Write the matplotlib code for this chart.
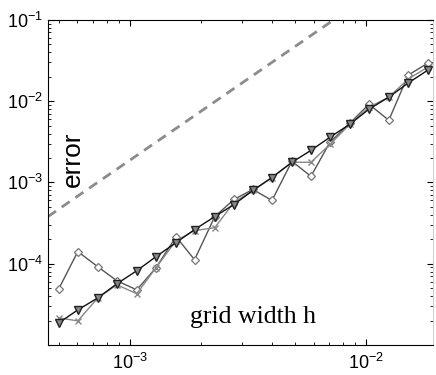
import matplotlib
matplotlib.use("Agg")
import matplotlib.pyplot as plt
from matplotlib.ticker import LogLocator, NullFormatter

plt.rcParams['font.family'] = ['Liberation Sans', 'DejaVu Sans']

# grid widths
h = [5.00e-4, 6.02e-4, 7.32e-4, 8.81e-4, 1.07e-3, 1.29e-3, 1.57e-3, 1.88e-3,
     2.29e-3, 2.76e-3, 3.32e-3, 4.00e-3, 4.86e-3, 5.85e-3, 7.04e-3, 8.55e-3,
     1.03e-2, 1.25e-2, 1.51e-2, 1.83e-2]

# errors of the three methods
err_tri = [1.87e-5, 2.70e-5, 3.80e-5, 5.66e-5, 8.20e-5, 1.22e-4, 1.82e-4, 2.63e-4,
           3.80e-4, 5.35e-4, 7.96e-4, 1.15e-3, 1.77e-3, 2.48e-3, 3.60e-3, 5.20e-3,
           7.96e-3, 1.12e-2, 1.67e-2, 2.41e-2]
err_dia = [4.91e-5, 1.41e-4, 9.18e-5, 6.17e-5, 4.77e-5, 8.92e-5, 2.15e-4, 1.12e-4,
           3.80e-4, 6.17e-4, 8.20e-4, 6.00e-4, 1.82e-3, 1.19e-3, 3.12e-3, 5.35e-3,
           9.18e-3, 5.82e-3, 2.09e-2, 2.94e-2]
err_x = [2.16e-5, 1.98e-5, 3.80e-5, 5.51e-5, 4.27e-5, 8.92e-5, 1.92e-4, 2.55e-4,
         2.78e-4, 5.67e-4, 7.96e-4, 1.15e-3, 1.77e-3, 1.77e-3, 2.94e-3, 5.20e-3,
         8.44e-3, 1.12e-2, 1.87e-2, 2.63e-2]

# second order reference line (end points)
ref_h = [4.5e-4, 8.0e-3]
ref_err = [3.8e-4, 0.12]

fig = plt.figure(figsize=(4.36, 3.75), dpi=100)
ax = fig.add_axes([0.110, 0.080, 0.883, 0.867])

ax.plot(ref_h, ref_err, '--', color='#8c8c8c', lw=2, dashes=(3.5, 2.5))
ax.plot(h, err_dia, '-', color='#555555', lw=1, marker='D', ms=4.5,
        mfc='white', mec='#777777', mew=0.9)
ax.plot(h, err_x, '-', color='#888888', lw=1, marker='x', ms=4.5, mec='#888888')
ax.plot(h, err_tri, '-', color='#111111', lw=1, marker='v', ms=5.5,
        mfc='#888888', mec='#222222', mew=1)

ax.set_xscale('log')
ax.set_yscale('log')
ax.set_xlim(4.5e-4, 1.923e-2)
ax.set_ylim(1e-5, 1e-1)

ax.set_yticks([1e-4, 1e-3, 1e-2, 1e-1])
ax.xaxis.set_minor_locator(LogLocator(base=10, subs=range(2, 10)))
ax.yaxis.set_minor_locator(LogLocator(base=10, subs=range(2, 10)))
ax.xaxis.set_minor_formatter(NullFormatter())
ax.yaxis.set_minor_formatter(NullFormatter())
ax.tick_params(which='both', direction='in', top=True, right=True, labelsize=13)
ax.tick_params(which='major', length=4, width=0.8)
ax.tick_params(which='minor', length=2, width=0.6)
ax.tick_params(axis='x', pad=6)

ax.spines['right'].set_color('#d0d0d0')

ax.text(0.064, 0.57, 'error', transform=ax.transAxes, rotation=90,
        fontsize=19, ha='center', va='center')
ax.text(0.37, 0.085, 'grid width h', transform=ax.transAxes,
        fontsize=18.5, family='Liberation Serif', ha='left', va='center')

fig.savefig('out.png', dpi=100)
